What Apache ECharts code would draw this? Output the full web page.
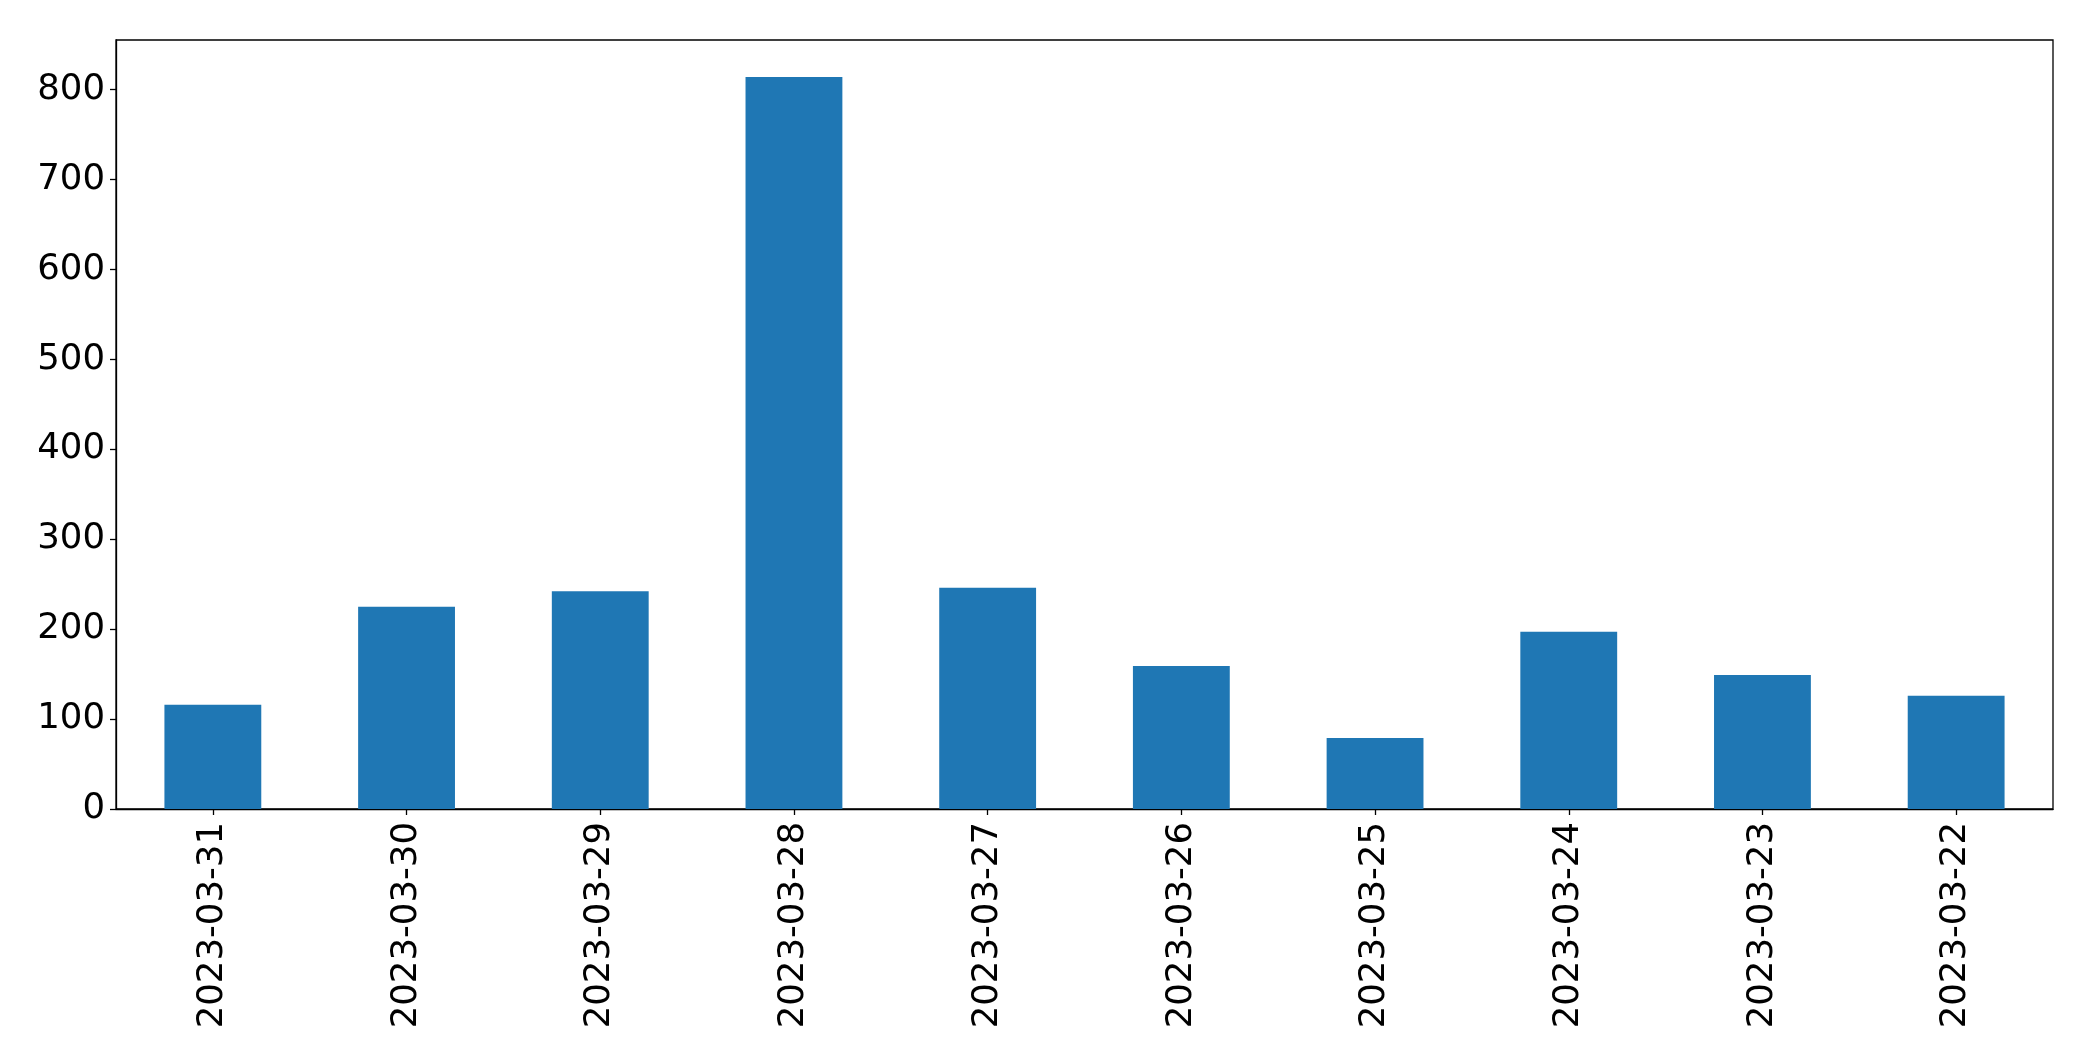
<!DOCTYPE html>
<html>
<head>
<meta charset="utf-8">
<script src="https://cdn.jsdelivr.net/npm/echarts@6/dist/echarts.min.js"></script>
<style>
html, body { margin: 0; padding: 0; background: #fff; }
#chart { width: 2093px; height: 1061px; }
</style>
</head>
<body>
<div id="chart"></div>
<script>
const categories = ['2023-03-31', '2023-03-30', '2023-03-29', '2023-03-28', '2023-03-27',
                    '2023-03-26', '2023-03-25', '2023-03-24', '2023-03-23', '2023-03-22'];
const values = [116, 225, 242, 814, 246, 159, 79, 197, 149, 126];
const yTicks = [0, 100, 200, 300, 400, 500, 600, 700, 800];

const chart = echarts.init(document.getElementById('chart'), null, { renderer: 'canvas' });
const font = 'DejaVu Sans';
chart.setOption({
  animation: false,
  backgroundColor: '#ffffff',
  grid: {
    left: 116, right: 40, top: 40, bottom: 252,
    show: true, borderColor: '#000', borderWidth: 1.3, backgroundColor: 'transparent'
  },
  xAxis: {
    type: 'category',
    data: categories,
    axisLine: { show: true, lineStyle: { color: '#000', width: 1.3 } },
    axisTick: { show: true, alignWithLabel: true, length: 6, lineStyle: { color: '#000', width: 1.3 } },
    axisLabel: { rotate: 90, color: '#000', fontFamily: font, fontSize: 35.5, margin: 13, interval: 0 },
    splitLine: { show: false }
  },
  yAxis: {
    type: 'value',
    min: 0, max: 855,
    axisLine: { show: true, lineStyle: { color: '#000', width: 1.3 } },
    axisTick: { show: true, length: 6, lineStyle: { color: '#000', width: 1.3 }, customValues: yTicks },
    axisLabel: { color: '#000', fontFamily: font, fontSize: 35.5, margin: 11, customValues: yTicks },
    splitLine: { show: false }
  },
  series: [{
    type: 'bar',
    data: values,
    barWidth: '50%',
    itemStyle: { color: '#1f77b4' }
  }]
});
</script>
</body>
</html>
